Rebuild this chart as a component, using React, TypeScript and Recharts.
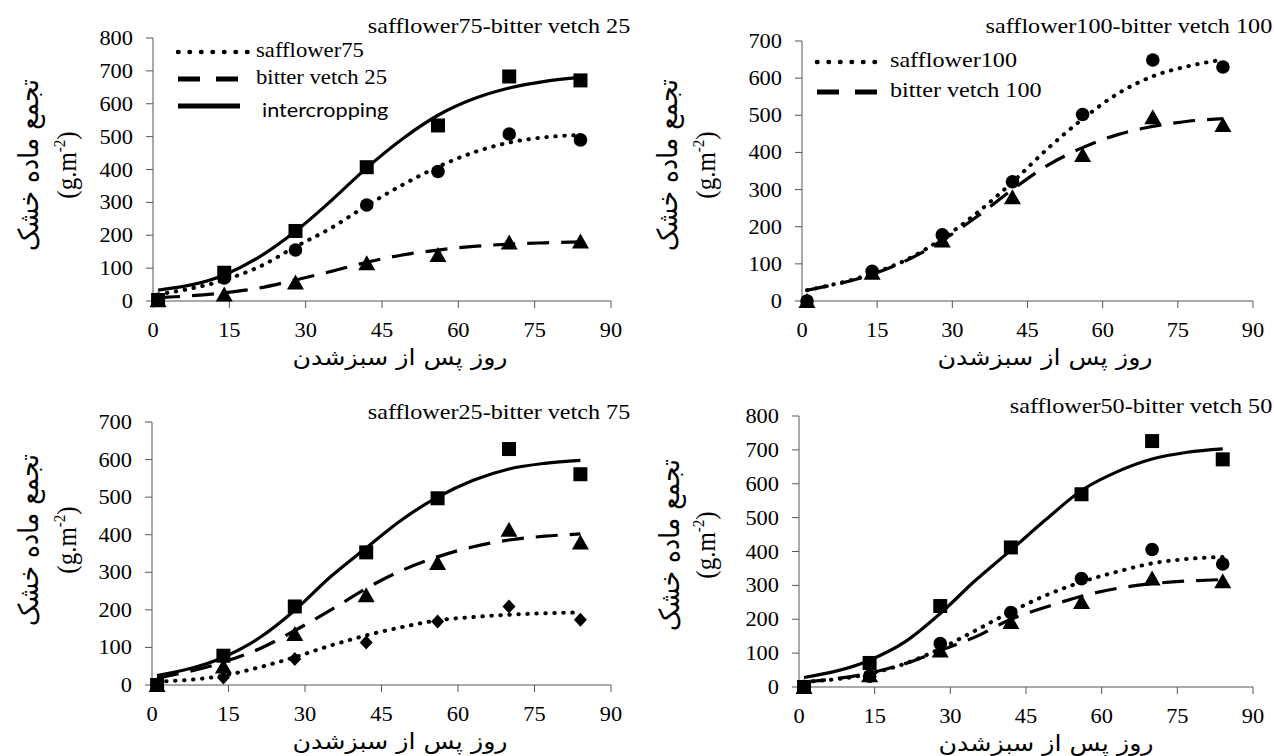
import React from "react";
import { ComposedChart, Line, Scatter, XAxis, YAxis } from "recharts";

// sampling days of the measured points and of the fitted curves
const days = [1, 14, 28, 42, 56, 70, 84];
const fitDays = [1, 14, 21, 28, 35, 42, 49, 56, 63, 70, 77, 84];
const xTicks = [0, 15, 30, 45, 60, 75, 90];
const yTicks800 = [0, 100, 200, 300, 400, 500, 600, 700, 800];
const yTicks700 = [0, 100, 200, 300, 400, 500, 600, 700];

// safflower75 - bitter vetch 25
const p1Inter = [3, 86, 213, 407, 534, 683, 671];
const p1Saff = [3, 70, 155, 292, 394, 508, 490];
const p1Vetch = [2, 20, 56, 115, 140, 178, 181];
const p1InterFit = [33, 79, 135, 212, 305, 405, 493, 565, 615, 648, 668, 680];
const p1SaffFit = [20, 64, 105, 165, 222, 290, 353, 408, 452, 482, 498, 505];
const p1VetchFit = [10, 25, 40, 64, 90, 118, 140, 155, 166, 173, 177, 180];

// safflower100 - bitter vetch 100
const p2Saff = [0, 80, 178, 321, 502, 649, 630];
const p2Vetch = [0, 76, 163, 279, 393, 495, 474];
const p2SaffFit = [29, 74, 112, 168, 238, 320, 410, 490, 558, 605, 632, 650];
const p2VetchFit = [29, 72, 110, 163, 228, 300, 365, 413, 448, 470, 484, 491];

// safflower25 - bitter vetch 75
const p3Inter = [0, 78, 209, 353, 497, 628, 561];
const p3Vetch = [0, 49, 136, 239, 325, 413, 379];
const p3Saff = [0, 20, 69, 113, 169, 209, 174];
const p3InterFit = [25, 74, 125, 199, 288, 365, 440, 500, 545, 575, 590, 598];
const p3VetchFit = [18, 61, 96, 145, 199, 257, 305, 341, 368, 386, 396, 402];
const p3SaffFit = [9, 25, 47, 74, 105, 132, 154, 172, 181, 187, 191, 193];

// safflower50 - bitter vetch 50
const p4Inter = [0, 71, 239, 412, 569, 726, 672];
const p4Saff = [0, 32, 128, 220, 320, 406, 363];
const p4Vetch = [0, 35, 108, 192, 251, 320, 312];
const p4InterFit = [28, 79, 133, 217, 315, 404, 495, 580, 635, 673, 693, 703];
const p4SaffFit = [15, 39, 69, 113, 167, 222, 271, 310, 340, 365, 378, 384];
const p4VetchFit = [15, 41, 69, 108, 148, 200, 236, 268, 291, 305, 313, 317];

const zip = (xs: number[], ys: number[]) => xs.map((x, i) => ({ x, y: ys[i] }));

const serif = "'Liberation Serif', 'Times New Roman', serif";
const sans = "Lato, 'Open Sans', sans-serif";
const persian = "'DejaVu Sans', sans-serif";
const axisColor = "#555";
const SX = 1.12; // text in the source is set a bit wide

type Style = "solid" | "dashed" | "dotted";
const lineProps = (s: Style) => {
  if (s === "dotted") return { strokeWidth: 4, strokeDasharray: "0.5 8.5", strokeLinecap: "round" as const };
  if (s === "dashed") return { strokeWidth: 3.2, strokeDasharray: "22 12" };
  return { strokeWidth: 3.2 };
};

const Square = (p: any) => <rect x={p.cx - 7} y={p.cy - 7} width={14} height={14} fill="#000" />;
const Dot = (p: any) => <circle cx={p.cx} cy={p.cy} r={6.8} fill="#000" />;
const Tri = (p: any) => (
  <polygon points={`${p.cx},${p.cy - 8} ${p.cx + 8.5},${p.cy + 7} ${p.cx - 8.5},${p.cy + 7}`} fill="#000" />
);
const Diamond = (p: any) => (
  <polygon points={`${p.cx},${p.cy - 7} ${p.cx + 6.5},${p.cy} ${p.cx},${p.cy + 7} ${p.cx - 6.5},${p.cy}`} fill="#000" />
);

const XTick = (p: any) => (
  <text
    transform={`translate(${p.x},${p.y}) scale(${SX},1)`}
    textAnchor="middle"
    dy="0.75em"
    fill="#000"
    style={{ fontFamily: serif, fontSize: 20 }}
  >
    {p.payload.value}
  </text>
);

const YTick = (p: any) => (
  <text
    transform={`translate(${p.x},${p.y}) scale(${SX},1)`}
    textAnchor="end"
    dy="0.35em"
    fill="#000"
    style={{ fontFamily: serif, fontSize: 20 }}
  >
    {p.payload.value}
  </text>
);

interface PanelProps {
  px: number;
  py: number;
  pw: number;
  ph: number;
  yMax: number;
  yTicks: number[];
  curves: { values: number[]; style: Style }[];
  points: { values: number[]; shape: any }[];
}

function Panel({ px, py, pw, ph, yMax, yTicks, curves, points }: PanelProps) {
  const left = 80;
  const top = 12;
  const right = 30;
  const bottom = 45;
  return (
    <div style={{ position: "absolute", left: px - left, top: py - top }}>
      <ComposedChart
        width={pw + left + right}
        height={ph + top + bottom}
        margin={{ top, right, left: 0, bottom: 0 }}
      >
        <XAxis
          type="number"
          dataKey="x"
          domain={[0, 90]}
          ticks={xTicks}
          interval={0}
          tickSize={7}
          tickMargin={14}
          height={bottom}
          stroke={axisColor}
          tick={XTick}
        />
        <YAxis
          type="number"
          dataKey="y"
          domain={[0, yMax]}
          ticks={yTicks}
          interval={0}
          tickSize={7}
          tickMargin={13}
          width={left}
          stroke={axisColor}
          tick={YTick}
        />
        {curves.map((c, i) => (
          <Line
            key={"c" + i}
            data={zip(fitDays, c.values)}
            dataKey="y"
            type="monotone"
            stroke="#000"
            dot={false}
            activeDot={false}
            isAnimationActive={false}
            {...lineProps(c.style)}
          />
        ))}
        {points.map((p, i) => (
          <Scatter
            key={"p" + i}
            data={zip(days, p.values)}
            dataKey="y"
            fill="#000"
            shape={p.shape}
            isAnimationActive={false}
          />
        ))}
      </ComposedChart>
    </div>
  );
}

const abs = (extra: React.CSSProperties): React.CSSProperties => ({
  position: "absolute",
  whiteSpace: "nowrap",
  color: "#000",
  lineHeight: 1,
  ...extra,
});

function Title({ text, right, y }: { text: string; right: number; y: number }) {
  return (
    <div
      style={abs({
        right: 1274 - right,
        top: y - 11,
        fontFamily: serif,
        fontSize: 21,
        transform: `scaleX(1.15)`,
        transformOrigin: "right center",
      })}
    >
      {text}
    </div>
  );
}

function YLabel({ x1, x2, y }: { x1: number; x2: number; y: number }) {
  const rot = "translate(-50%, -50%) rotate(-90deg) scaleY(1.1)";
  return (
    <>
      <div style={abs({ left: x1, top: y, transform: rot, fontFamily: persian, fontSize: 25, direction: "rtl" })}>
        تجمع ماده خشک
      </div>
      <div style={abs({ left: x2, top: y, transform: rot, fontFamily: serif, fontSize: 25 })}>
        (g.m<sup style={{ fontSize: 15 }}>-2</sup>)
      </div>
    </>
  );
}

function XLabel({ x, y }: { x: number; y: number }) {
  return (
    <div
      style={abs({
        left: x,
        top: y,
        transform: `translate(-50%, -50%) scaleX(1.15)`,
        fontFamily: persian,
        fontSize: 22,
        direction: "rtl",
      })}
    >
      روز پس از سبزشدن
    </div>
  );
}

function LegendRow({ x, y, w, style, text, tx, ty, font, size, sx }: any) {
  return (
    <>
      <svg style={{ position: "absolute", left: x, top: y - 5 }} width={w} height={10}>
        <line
          x1={2}
          y1={5}
          x2={w - 2}
          y2={5}
          stroke="#000"
          {...lineProps(style)}
          strokeDasharray={style === "dashed" ? "22 16" : style === "dotted" ? "0.5 11" : undefined}
          strokeWidth={style === "dotted" ? 4.5 : 5}
        />
      </svg>
      <div
        style={abs({
          left: tx,
          top: (ty ?? y) - size * 0.55,
          fontFamily: font,
          fontSize: size,
          transform: `scaleX(${sx})`,
          transformOrigin: "left center",
        })}
      >
        {text}
      </div>
    </>
  );
}

export default function App() {
  return (
    <div style={{ position: "fixed", left: 0, top: 0, width: 1274, height: 756, background: "#fff", overflow: "hidden" }}>
      <Panel
        px={153} py={38} pw={458} ph={263} yMax={800} yTicks={yTicks800}
        curves={[
          { values: p1InterFit, style: "solid" },
          { values: p1SaffFit, style: "dotted" },
          { values: p1VetchFit, style: "dashed" },
        ]}
        points={[
          { values: p1Inter, shape: Square },
          { values: p1Saff, shape: Dot },
          { values: p1Vetch, shape: Tri },
        ]}
      />
      <Panel
        px={802} py={41} pw={451} ph={260} yMax={700} yTicks={yTicks700}
        curves={[
          { values: p2SaffFit, style: "dotted" },
          { values: p2VetchFit, style: "dashed" },
        ]}
        points={[
          { values: p2Saff, shape: Dot },
          { values: p2Vetch, shape: Tri },
        ]}
      />
      <Panel
        px={152} py={422} pw={459} ph={263} yMax={700} yTicks={yTicks700}
        curves={[
          { values: p3InterFit, style: "solid" },
          { values: p3VetchFit, style: "dashed" },
          { values: p3SaffFit, style: "dotted" },
        ]}
        points={[
          { values: p3Inter, shape: Square },
          { values: p3Vetch, shape: Tri },
          { values: p3Saff, shape: Diamond },
        ]}
      />
      <Panel
        px={799} py={416} pw={454} ph={271} yMax={800} yTicks={yTicks800}
        curves={[
          { values: p4InterFit, style: "solid" },
          { values: p4SaffFit, style: "dotted" },
          { values: p4VetchFit, style: "dashed" },
        ]}
        points={[
          { values: p4Inter, shape: Square },
          { values: p4Saff, shape: Dot },
          { values: p4Vetch, shape: Tri },
        ]}
      />

      <Title text="safflower75-bitter vetch 25" right={630} y={27} />
      <Title text="safflower100-bitter vetch 100" right={1272} y={27} />
      <Title text="safflower25-bitter vetch 75" right={630} y={413} />
      <Title text="safflower50-bitter vetch 50" right={1272} y={407} />

      <YLabel x1={29} x2={66} y={165} />
      <YLabel x1={668} x2={705} y={165} />
      <YLabel x1={29} x2={66} y={540} />
      <YLabel x1={670} x2={705} y={545} />

      <XLabel x={400} y={358} />
      <XLabel x={1045} y={358} />
      <XLabel x={400} y={742} />
      <XLabel x={1046} y={744} />

      <LegendRow x={176} y={52} w={74} style="dotted" text="safflower75" tx={256} font={serif} size={21} sx={1.08} />
      <LegendRow x={176} y={79} w={64} style="dashed" text="bitter vetch 25" tx={256} font={serif} size={21} sx={1.08} />
      <LegendRow x={176} y={106} w={66} style="solid" text="intercropping" tx={262} ty={110} font={sans} size={20} sx={1.08} />

      <LegendRow x={815} y={62} w={69} style="dotted" text="safflower100" tx={890} font={serif} size={21} sx={1.15} />
      <LegendRow x={815} y={92} w={69} style="dashed" text="bitter vetch 100" tx={890} font={serif} size={21} sx={1.15} />
    </div>
  );
}
